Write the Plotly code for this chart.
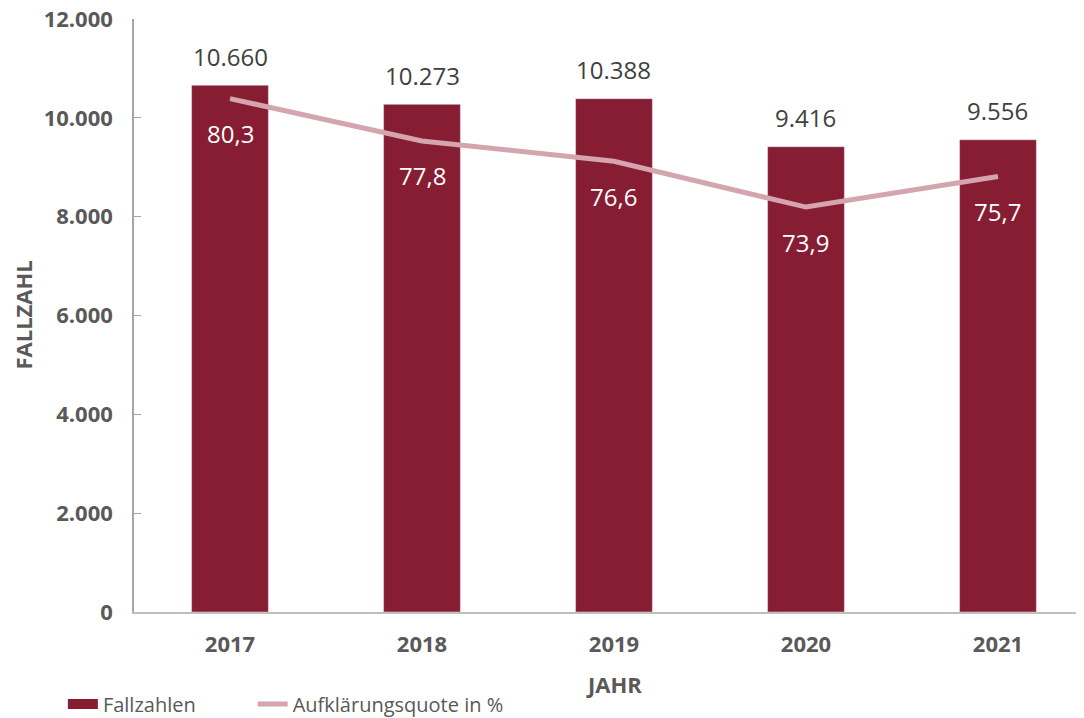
import plotly.graph_objects as go

years = ["2017", "2018", "2019", "2020", "2021"]
fallzahlen = [10660, 10273, 10388, 9416, 9556]
quote = [80.3, 77.8, 76.6, 73.9, 75.7]

bar_color = "#861D33"
line_color = "#D4A5AE"
grey = "#595959"
font = "Open Sans"


def de_int(v):
    return f"{v:,}".replace(",", ".")


fig = go.Figure()
fig.add_trace(go.Bar(
    x=years, y=fallzahlen, name="Fallzahlen",
    marker_color=bar_color, width=0.4, showlegend=False,
))
# legend key for the bars, drawn as a wide block like the original
fig.add_trace(go.Scatter(
    x=[None], y=[None], mode="lines", name="Fallzahlen" + "\u00a0" * 10,
    line=dict(color=bar_color, width=16),
))
fig.add_trace(go.Scatter(
    x=years, y=quote, name="Aufklärungsquote in %", yaxis="y2",
    mode="lines", line=dict(color=line_color, width=5),
))

# value labels (x given as category index)
for i, v in enumerate(fallzahlen):
    fig.add_annotation(x=i, y=v, text=de_int(v), showarrow=False,
                       yanchor="middle", yshift=29,
                       font=dict(family=font, size=24, color="#404040"))
for i, q in enumerate(quote):
    fig.add_annotation(x=i, y=q, yref="y2", text=f"{q:.1f}".replace(".", ","),
                       showarrow=False, yanchor="middle", yshift=-35,
                       font=dict(family=font, size=24, color="white"))

# axis titles
title_font = dict(family=font, size=22, color=grey, weight="bold")
fig.add_annotation(text="JAHR", xref="paper", yref="paper", x=0.5, y=0,
                   xshift=5, yshift=-72, yanchor="middle",
                   showarrow=False, font=title_font)
fig.add_annotation(text="FALLZAHL", xref="paper", yref="paper", x=0, y=0.5,
                   xshift=-112, textangle=-90, xanchor="center",
                   showarrow=False, font=title_font)

# the page body adds an 8px margin, so the figure is sized to fit inside it
fig.update_layout(
    width=1076, height=710,
    margin=dict(l=126, r=0, t=11, b=106, autoexpand=False),
    plot_bgcolor="white", paper_bgcolor="white",
    separators=",.",
    showlegend=True,
    legend=dict(orientation="h", xref="container", yref="container",
                x=0.051, y=0.0197, xanchor="left", yanchor="middle",
                font=dict(family=font, size=20, color=grey)),
    xaxis=dict(
        type="category", range=[-0.5, 4.448], automargin=False,
        showline=True, linecolor="#BFBFBF", linewidth=2,
        ticks="", ticklabelstandoff=12,
        tickfont=dict(family=font, size=22, color=grey, weight="bold"),
    ),
    yaxis=dict(
        range=[0, 12000], tickvals=[0, 2000, 4000, 6000, 8000, 10000, 12000],
        tickformat=",d", automargin=False, ticklabeloverflow="allow",
        showgrid=False, zeroline=False,
        showline=True, linecolor="#A6A6A6", linewidth=1.5,
        ticks="inside", ticklen=7, tickcolor="#A6A6A6",
        ticklabelstandoff=15,
        tickfont=dict(family=font, size=22, color=grey, weight="bold"),
    ),
    yaxis2=dict(range=[50, 85], overlaying="y", side="right", visible=False),
)

fig.write_html("out.html")
